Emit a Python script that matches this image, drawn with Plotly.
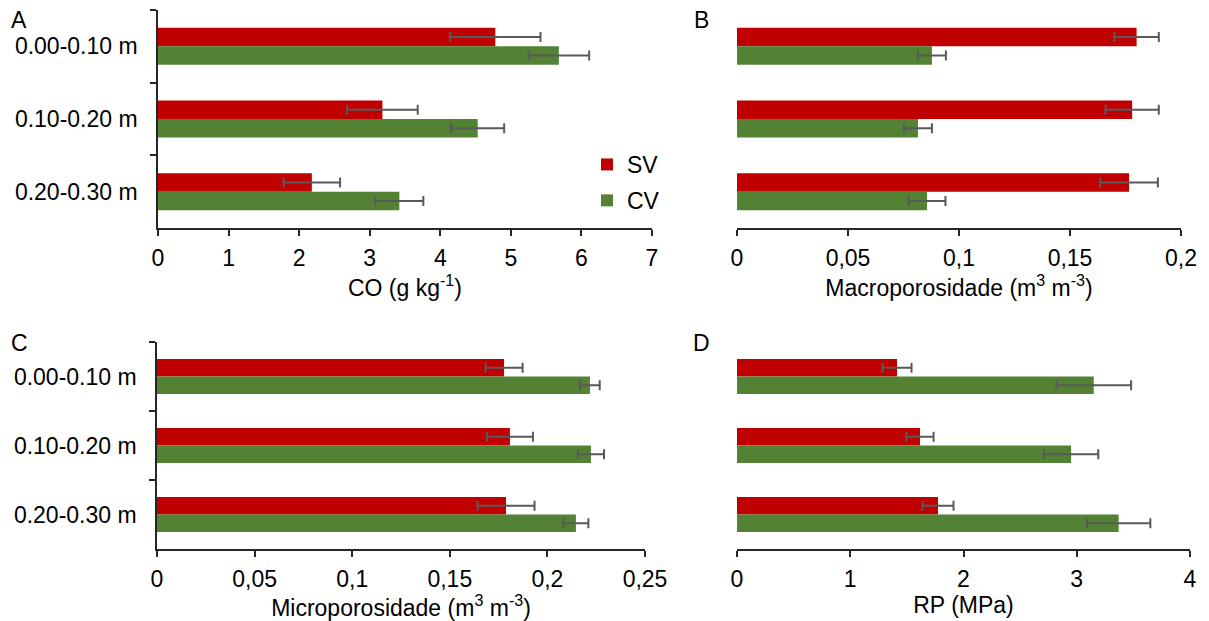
import plotly.graph_objects as go

categories = ["0.00-0.10 m", "0.10-0.20 m", "0.20-0.30 m"]
series_names = ["SV", "CV"]

co_sv = [4.78, 3.18, 2.18]
co_sv_err = [0.64, 0.50, 0.40]
co_cv = [5.68, 4.53, 3.42]
co_cv_err = [0.43, 0.375, 0.34]

macro_sv = [0.180, 0.178, 0.1766]
macro_sv_err = [0.010, 0.012, 0.013]
macro_cv = [0.0878, 0.0815, 0.0856]
macro_cv_err = [0.0063, 0.0063, 0.0083]

micro_sv = [0.1778, 0.1808, 0.1788]
micro_sv_err = [0.0095, 0.0118, 0.0146]
micro_cv = [0.2218, 0.2223, 0.2146]
micro_cv_err = [0.0050, 0.0067, 0.0064]

rp_sv = [1.413, 1.616, 1.775]
rp_sv_err = [0.128, 0.120, 0.137]
rp_cv = [3.15, 2.95, 3.37]
rp_cv_err = [0.33, 0.24, 0.28]

x_titles = ["CO (g kg<sup>-1</sup>)", "Macroporosidade (m<sup>3</sup> m<sup>-3</sup>)",
            "Microporosidade (m<sup>3</sup> m<sup>-3</sup>)", "RP (MPa)"]
panel_letters = ["A", "B", "C", "D"]

RED = "#C00000"
GREEN = "#548235"
ERR = "#595959"
AXC = "#262626"
FONT = "Arial, Liberation Sans, sans-serif"
FS = 23

panels = [
    (co_sv, co_sv_err, co_cv, co_cv_err),
    (macro_sv, macro_sv_err, macro_cv, macro_cv_err),
    (micro_sv, micro_sv_err, micro_cv, micro_cv_err),
    (rp_sv, rp_sv_err, rp_cv, rp_cv_err),
]

fig = go.Figure()
for i, (sv, sve, cv, cve) in enumerate(panels):
    xa = "x" if i == 0 else f"x{i+1}"
    ya = "y" if i == 0 else f"y{i+1}"
    for name, vals, errs, col in [(series_names[0], sv, sve, RED), (series_names[1], cv, cve, GREEN)]:
        fig.add_trace(go.Bar(
            y=categories, x=vals, orientation="h", name=name,
            marker=dict(color=col, line=dict(width=0)),
            error_x=dict(type="data", array=errs, color=ERR, thickness=2, width=5),
            xaxis=xa, yaxis=ya, showlegend=(i == 0), legendgroup=name,
        ))

W, H = 1209, 621
def px_x(p):
    return p / W
def px_y(p):
    return 1 - p / H

xdoms = [(158, 652), (737, 1181), (157, 645), (737, 1190)]
ydoms = [(10, 228), (10, 228), (342, 549), (342, 549)]
ranges = [[0, 7], [0, 0.2], [0, 0.25], [0, 4]]
dticks = [1, 0.05, 0.05, 1]

layout = dict(
    width=W, height=H,
    margin=dict(l=0, r=0, t=0, b=0, autoexpand=False),
    paper_bgcolor="white", plot_bgcolor="white",
    barmode="group", bargap=0.49, bargroupgap=0,
    separators=", ",
    font=dict(family=FONT, size=FS, color="black"),
    legend=dict(x=px_x(587), y=px_y(143), xanchor="left", yanchor="top",
                font=dict(size=FS), bgcolor="rgba(0,0,0,0)", traceorder="grouped",
                tracegroupgap=3, itemwidth=30),
    annotations=[],
)
for i in range(4):
    xk = "xaxis" if i == 0 else f"xaxis{i+1}"
    yk = "yaxis" if i == 0 else f"yaxis{i+1}"
    ya = "y" if i == 0 else f"y{i+1}"
    xa = "x" if i == 0 else f"x{i+1}"
    left = i in (0, 2)
    layout[xk] = dict(
        domain=[px_x(xdoms[i][0]), px_x(xdoms[i][1])], anchor=ya,
        range=ranges[i], dtick=dticks[i], tick0=0,
        showline=True, linecolor=AXC, linewidth=1.5,
        ticks="outside", ticklen=6, tickcolor=AXC, tickwidth=1.5,
        showgrid=False, zeroline=False, automargin=False,
        tickfont=dict(size=FS, color="black"),
        ticklabelstandoff=3,
        title=dict(text=x_titles[i], font=dict(size=FS), standoff=6),
    )
    layout[yk] = dict(
        domain=[px_y(ydoms[i][1]), px_y(ydoms[i][0])], anchor=xa,
        type="category", autorange="reversed",
        showline=left, linecolor=AXC, linewidth=1.5,
        ticks="outside" if left else "", tickson="boundaries", ticklen=6,
        tickcolor=AXC, tickwidth=1.5, automargin=False,
        showticklabels=left, showgrid=False, zeroline=False,
        tickfont=dict(size=FS, color="black"),
        ticklabelstandoff=14,
    )
    lx = [19, 701, 19, 701][i]
    ly = [20, 20, 343, 343][i]
    layout["annotations"].append(dict(
        text=panel_letters[i], x=px_x(lx), y=px_y(ly), xref="paper", yref="paper",
        showarrow=False, xanchor="center", yanchor="middle", font=dict(size=FS)))

fig.update_layout(**layout)
fig.write_html("out.html", config={"displayModeBar": False},
               post_script="document.body.style.margin='0';document.body.style.padding='0';")
